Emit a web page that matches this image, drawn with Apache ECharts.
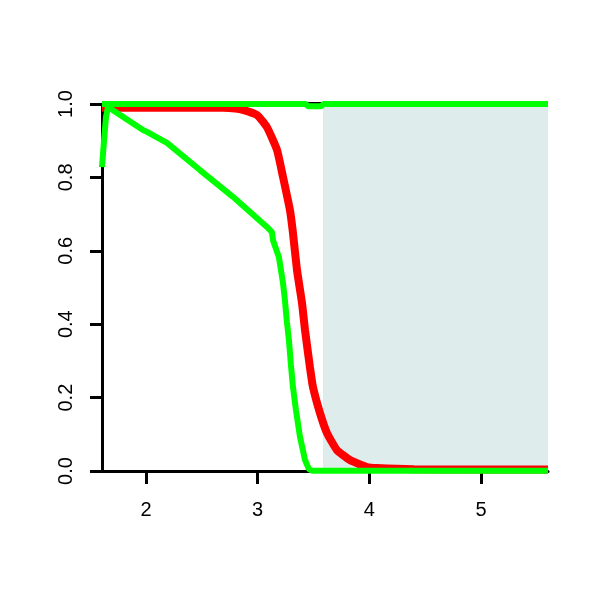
<!DOCTYPE html>
<html>
<head>
<meta charset="utf-8">
<script src="https://cdn.jsdelivr.net/npm/echarts@6/dist/echarts.min.js"></script>
<style>html,body{margin:0;padding:0;background:#fff}#c{width:600px;height:600px}</style>
</head>
<body>
<div id="c"></div>
<script>
const xMin = 1.606, xMax = 5.6;
const xTicks = [2, 3, 4, 5];
const shadeRange = [3.585, 5.6];

const redX = [1.606, 2.69, 2.80, 2.868, 2.994, 3.083, 3.173, 3.227, 3.289, 3.316, 3.352, 3.397, 3.424, 3.468, 3.495, 3.558, 3.620, 3.710, 3.826, 3.978, 4.068, 4.4, 5.6];
const redY = [0.990, 0.990, 0.988, 0.984, 0.970, 0.937, 0.875, 0.801, 0.711, 0.649, 0.548, 0.458, 0.384, 0.283, 0.229, 0.158, 0.104, 0.057, 0.030, 0.011, 0.008, 0.005, 0.004];

const greenX = [1.606, 1.624, 1.642, 1.660, 1.973, 2.009, 2.188, 2.483, 2.779, 3.083, 3.128, 3.137, 3.19, 3.227, 3.244, 3.262, 3.28, 3.298, 3.316, 3.343, 3.379, 3.424, 3.459, 3.486, 5.6];
const greenY = [0.828, 0.90, 0.965, 0.992, 0.929, 0.924, 0.894, 0.820, 0.747, 0.665, 0.651, 0.629, 0.583, 0.512, 0.466, 0.406, 0.357, 0.289, 0.229, 0.166, 0.093, 0.030, 0.005, 0.001, 0.001];

const topX = [1.606, 3.43, 3.45, 3.57, 3.59, 5.6];
const topY = [1, 1, 0.994, 0.994, 1, 1];

const zip = (a, b) => a.map((v, i) => [v, b[i]]);

const chart = echarts.init(document.getElementById('c'));
chart.setOption({
  animation: false,
  backgroundColor: '#fff',
  grid: { left: 102, right: 52, top: 104, bottom: 129 },
  xAxis: {
    type: 'value', min: xMin, max: xMax,
    splitLine: { show: false },
    axisLine: { lineStyle: { color: '#000', width: 3 } },
    axisTick: { customValues: xTicks, length: 13, lineStyle: { color: '#000', width: 3 } },
    axisLabel: { customValues: xTicks, color: '#000', fontSize: 20, margin: 29, fontFamily: 'Liberation Sans' }
  },
  yAxis: {
    type: 'value', min: 0, max: 1, interval: 0.2,
    splitLine: { show: false },
    axisLine: { lineStyle: { color: '#000', width: 3 } },
    axisTick: { length: 12, lineStyle: { color: '#000', width: 3 } },
    axisLabel: { rotate: 90, color: '#000', fontSize: 20, margin: 26, fontFamily: 'Liberation Sans',
      formatter: v => v.toFixed(1) }
  },
  series: [
    {
      type: 'line', data: [[xMin, 1], [xMax, 1]], symbol: 'none', clip: false, z: 1,
      lineStyle: { color: '#000', width: 4 },
      markArea: { silent: true, itemStyle: { color: '#dfecec' },
        data: [[{ xAxis: shadeRange[0], yAxis: 0 }, { xAxis: shadeRange[1], yAxis: 1 }]] }
    },
    { type: 'line', data: zip(redX, redY), symbol: 'none', clip: false, z: 2, smooth: 0.15,
      lineStyle: { color: '#ff0000', width: 8 } },
    { type: 'line', data: zip(topX, topY), symbol: 'none', clip: false, z: 3,
      lineStyle: { color: '#00ff00', width: 6 } },
    { type: 'line', data: zip(greenX, greenY), symbol: 'none', clip: false, z: 3,
      lineStyle: { color: '#00ff00', width: 6 } }
  ]
});
</script>
</body>
</html>
